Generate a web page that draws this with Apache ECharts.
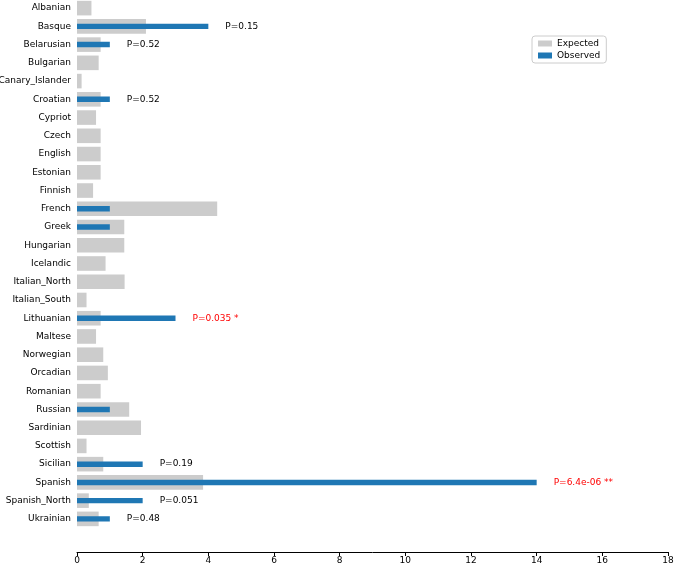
<!DOCTYPE html>
<html>
<head>
<meta charset="utf-8">
<script src="https://cdn.jsdelivr.net/npm/echarts@6/dist/echarts.min.js"></script>
<style>html,body{margin:0;padding:0;background:#fff;}#c{width:675px;height:565px;}</style>
</head>
<body>
<div id="c"></div>
<script>
const categories = ["Albanian","Basque","Belarusian","Bulgarian","Canary_Islander","Croatian","Cypriot","Czech","English","Estonian","Finnish","French","Greek","Hungarian","Icelandic","Italian_North","Italian_South","Lithuanian","Maltese","Norwegian","Orcadian","Romanian","Russian","Sardinian","Scottish","Sicilian","Spanish","Spanish_North","Ukrainian"];
const expected = [0.44,2.10,0.72,0.66,0.14,0.72,0.58,0.72,0.72,0.72,0.49,4.27,1.44,1.44,0.87,1.45,0.29,0.72,0.58,0.80,0.94,0.72,1.59,1.95,0.29,0.80,3.84,0.36,0.66];
const observed = [0,4,1,0,0,1,0,0,0,0,0,1,1,0,0,0,0,3,0,0,0,0,1,0,0,2,14,2,1];
const pLabels = ["","P=0.15","P=0.52","","","P=0.52","","","","","","","","","","","","P=0.035 *","","","","","","","","P=0.19","P=6.4e-06 **","P=0.051","P=0.48"];
const significant = [0,0,0,0,0,0,0,0,0,0,0,0,0,0,0,0,0,1,0,0,0,0,0,0,0,0,1,0,0];
const xTicks = {min:0, max:18, interval:2};

const font = 'DejaVu Sans';
const obsData = observed.map((v,i)=>({
  value: v,
  label: {show: pLabels[i] !== '', formatter: pLabels[i], color: significant[i] ? '#ff0000' : '#000000'}
}));

const chart = echarts.init(document.getElementById('c'));
chart.setOption({
  animation: false,
  textStyle: {fontFamily: font},
  grid: {left: 77, right: 7, top: -1, height: 529, containLabel: false, outerBoundsMode: 'none'},
  legend: {
    orient: 'vertical', left: 532, top: 36, padding: [3,6,3,6],
    itemWidth: 14, itemHeight: 6, itemGap: 3, icon: 'rect',
    borderColor: '#cccccc', borderWidth: 1, borderRadius: 3,
    textStyle: {fontFamily: font, fontSize: 9, color: '#000'},
    data: ['Expected','Observed']
  },
  xAxis: {
    type: 'value', min: xTicks.min, max: xTicks.max, interval: xTicks.interval,
    offset: 24,
    axisLine: {show: true, onZero: false, lineStyle: {color: '#000', width: 1}},
    axisTick: {show: true, length: 4, lineStyle: {color: '#000'}},
    axisLabel: {fontFamily: font, fontSize: 9, color: '#000', margin: 4},
    splitLine: {show: false}
  },
  yAxis: [
    {
      type: 'category', inverse: true, data: categories,
      axisLine: {show: false}, axisTick: {show: false},
      axisLabel: {fontFamily: font, fontSize: 9, color: '#000', margin: 6}
    },
    {
      type: 'category', inverse: true, data: categories, position: 'left',
      axisLine: {show: false}, axisTick: {show: false}, axisLabel: {show: false}
    }
  ],
  series: [
    {name: 'Expected', type: 'bar', yAxisIndex: 0, data: expected, barWidth: '80%',
     itemStyle: {color: '#cccccc'}},
    {name: 'Observed', type: 'bar', yAxisIndex: 1, data: obsData, barWidth: '30%',
     itemStyle: {color: '#1f77b4'},
     label: {position: 'right', distance: 17, fontFamily: font, fontSize: 9}}
  ]
});
</script>
</body>
</html>
